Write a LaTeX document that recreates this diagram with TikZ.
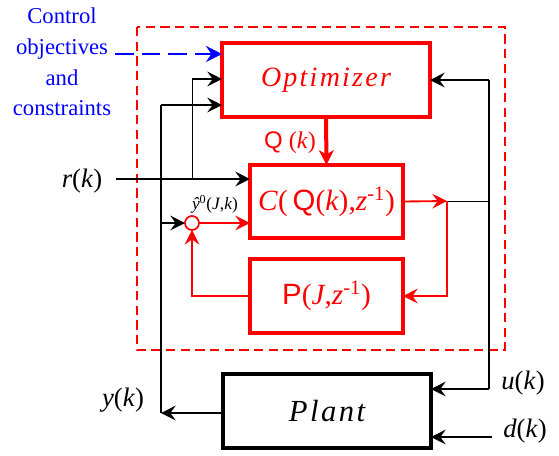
\documentclass[tikz,border=0pt]{standalone}
\usepackage{fontspec}
\setmainfont{Liberation Serif}
\setsansfont{Liberation Sans}
\newfontfamily\spacedfont[LetterSpace=8]{Liberation Serif}
\usepackage{tikz}
\usetikzlibrary{arrows.meta,positioning}
\definecolor{mpcred}{HTML}{FF0000}
\definecolor{mpcblue}{HTML}{0000FF}
\definecolor{mpcink}{HTML}{000000}
\tikzset{
  redBox/.style={draw=mpcred, line width=2.6pt, inner sep=0pt, outer sep=0pt, text=mpcred, font=\fontsize{22}{24}\selectfont},
  plantBox/.style={draw=mpcink, line width=2.5pt, inner sep=0pt, outer sep=0pt},
  sumNode/.style={circle, draw=mpcred, line width=1.3pt, fill=white, minimum size=10.5pt, inner sep=0pt, outer sep=0pt},
  sigArrow/.style={-{Stealth[length=11pt,width=11pt,inset=4pt]}, line width=1.1pt, draw=mpcink},
  sigLine/.style={line width=1.1pt, draw=mpcink},
  thinLine/.style={line width=0.7pt, draw=mpcink},
  redArrow/.style={-{Stealth[length=11pt,width=11pt,inset=4pt]}, line width=1.4pt, draw=mpcred},
  qArrow/.style={-{Stealth[length=11pt,width=11pt,inset=3pt]}, line width=3pt, draw=mpcred},
  goalArrow/.style={-{Stealth[length=12pt,width=12pt,inset=4pt]}, line width=2.2pt, draw=mpcblue, dash pattern=on 14pt off 6pt},
  frameBox/.style={draw=mpcred, line width=1.2pt, dash pattern=on 7pt off 4pt},
  sigLabel/.style={font=\fontsize{20}{22}\selectfont, inner sep=0pt}
}

\begin{document}
\begin{tikzpicture}[x=0.75pt,y=-0.75pt]
  \useasboundingbox (0,0) rectangle (559,455);
  % dashed frame round the controller
  \draw[frameBox] (137,27) rectangle (505,350);

  % blocks
  \node[redBox, minimum width=156pt, minimum height=55.5pt] (opt) at (326,80)
    {\spacedfont\itshape\fontsize{21}{24}\selectfont Optimizer};
  \node[redBox, minimum width=114.75pt, minimum height=54.75pt] (ctl) at (326.5,201.5)
    {\textit{C}(\,\textsf{Q}(\textit{k}),\textit{z}\textsuperscript{-1})};
  \node[redBox, minimum width=114.75pt, minimum height=55.5pt] (pred) at (326.5,296)
    {\textsf{P}(\textit{J},\textit{z}\textsuperscript{-1})};
  \node[plantBox, minimum width=156pt, minimum height=55.5pt] (plant) at (327,411)
    {\spacedfont\itshape\fontsize{23}{26}\selectfont Plant};
  \node[sumNode] (sum) at (192,223) {};

  % labels
  \node[text=mpcblue, align=center, font=\fontsize{17}{23}\selectfont] (goals) at (62,62)
    {Control\\objectives\\and\\constraints};
  \node[sigLabel] (rlab) at (82,181) {\textit{r}(\textit{k})};
  \node[sigLabel] (ylab) at (123,400) {\textit{y}(\textit{k})};
  \node[sigLabel] (ulab) at (523,383) {\textit{u}(\textit{k})};
  \node[sigLabel] (dlab) at (525,431) {\textit{d}(\textit{k})};
  \node[sigLabel, text=mpcred, font=\fontsize{18}{20}\selectfont] (qlab) at (290,143)
    {\textsf{Q} (\textit{k})};
  \node[sigLabel, font=\fontsize{13}{15}\selectfont] (yhat) at (215,204)
    {\textit{ŷ}\textsuperscript{0}(\textit{J},\textit{k})};

  % free ends and corners
  \coordinate (cobj) at (115,54);
  \coordinate (rin) at (116,179);
  \coordinate (ja) at (192,179);
  \coordinate (ja2) at (192,79);
  \coordinate (jb) at (161,105);
  \coordinate (yout) at (161,413);
  \coordinate (cout) at (447,201);
  \coordinate (utop) at (489,80);
  \coordinate (ubot) at (489,389);
  \coordinate (din) at (492,437);

  % connectors
  \draw[goalArrow] (cobj) -- (cobj -| opt.west);
  \draw[thinLine] (ja) -- (ja2);
  \draw[sigArrow] (ja2) -- (ja2 -| opt.west);
  \draw[sigArrow] (rin) -- (rin -| ctl.west);
  \draw[sigLine] (yout) -- (jb);
  \draw[sigArrow] (jb) -- (jb -| opt.west);
  \draw[sigArrow] (yout |- sum) -- (sum.west);
  \draw[redArrow] (sum.east) -- (sum -| ctl.west);
  \draw[redArrow] (pred.west) -| (sum.south);
  \draw[qArrow] (opt.south) -- (ctl.north);
  \draw[thinLine] (cout) -- (cout -| utop);
  \draw[redArrow] (ctl.east) -- (cout);
  \draw[redArrow] (cout) |- (pred.east);
  \draw[sigLine] (ubot) -- (utop);
  \draw[sigArrow] (utop) -- (opt.east);
  \draw[sigArrow] (ubot) -- (ubot -| plant.east);
  \draw[sigArrow] (din) -- (din -| plant.east);
  \draw[sigArrow] (plant.west |- yout) -- (yout);
\end{tikzpicture}
\end{document}
